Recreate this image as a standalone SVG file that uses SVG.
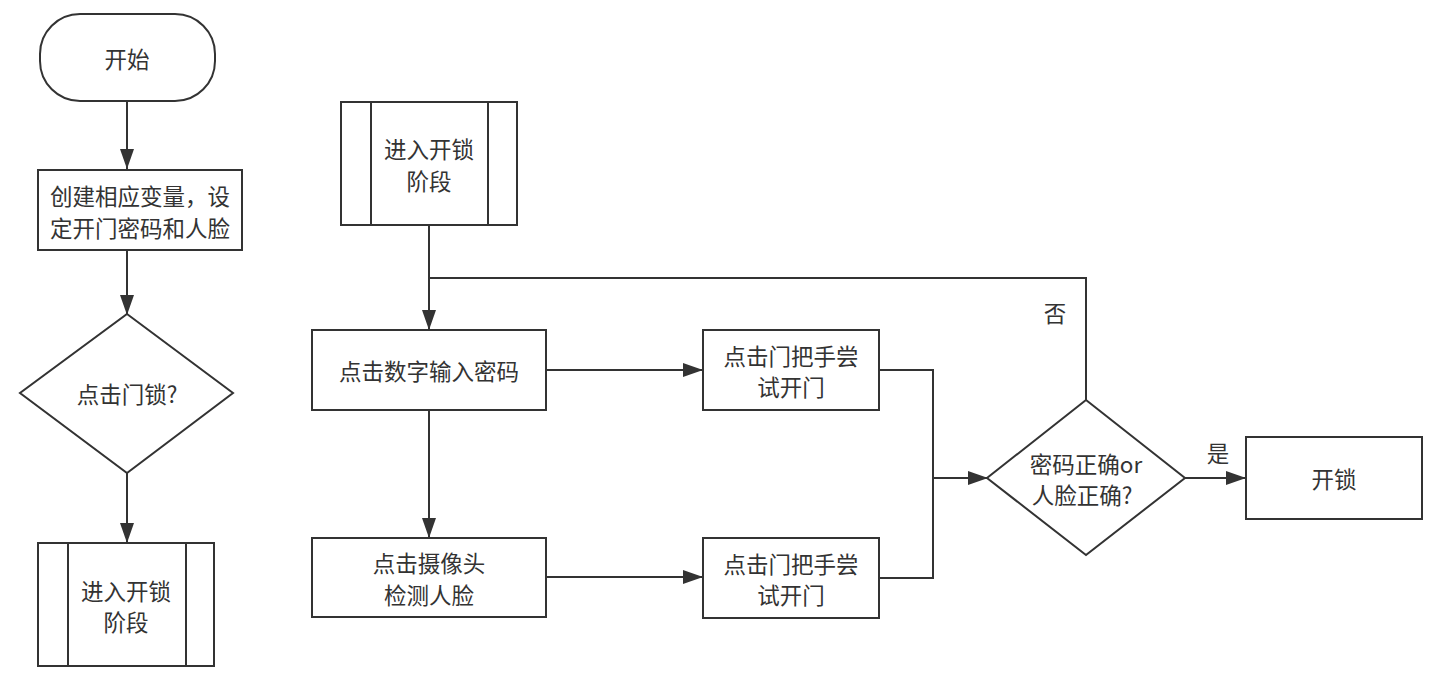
<svg xmlns="http://www.w3.org/2000/svg" width="1436" height="678" viewBox="0 0 1436 678">
<style>
.n{fill:#fff;stroke:#333;stroke-width:2}
.c{fill:none;stroke:#333;stroke-width:2}
text{font-family:"Noto Sans CJK SC","Microsoft YaHei",sans-serif;font-size:22.5px;fill:#333;text-anchor:middle;dominant-baseline:central}
</style>
<defs>
<marker id="a" viewBox="0 0 20 14" refX="20" refY="7" markerWidth="20" markerHeight="14" markerUnits="userSpaceOnUse" orient="auto">
<path d="M0,0L20,7L0,14Z" fill="#333"/>
</marker>
</defs>
<rect width="1436" height="678" fill="#fff"/>
<g id="connectors">
<path class="c" d="M127,101V169" marker-end="url(#a)"/>
<path class="c" d="M127,250V315" marker-end="url(#a)"/>
<path class="c" d="M127,473V543" marker-end="url(#a)"/>
<path class="c" d="M429,225V330" marker-end="url(#a)"/>
<path class="c" d="M429,410V538" marker-end="url(#a)"/>
<path class="c" d="M546,370H703" marker-end="url(#a)"/>
<path class="c" d="M546,577H703" marker-end="url(#a)"/>
<path class="c" d="M879,370H933V578H879"/>
<path class="c" d="M933,478H988" marker-end="url(#a)"/>
<path class="c" d="M1086,400V278H429"/>
<path class="c" d="M1185,478H1246" marker-end="url(#a)"/>
<text x="1055" y="312">否</text>
<text x="1218" y="452">是</text>
</g>
<g id="start">
<rect class="n" x="40" y="14" width="175" height="87" rx="40"/>
<text x="127" y="58">开始</text>
</g>
<g id="init">
<rect class="n" x="38" y="170" width="204" height="80"/>
<text x="140" y="195">创建相应变量，设</text>
<text x="140" y="227">定开门密码和人脸</text>
</g>
<g id="click-lock">
<path class="n" d="M127,314L233,393L127,473L20,393Z"/>
<text x="127" y="393">点击门锁?</text>
</g>
<g id="enter-left">
<rect class="n" x="38" y="543" width="176" height="123"/>
<path class="c" d="M68,543V666M186,543V666"/>
<text x="126" y="590">进入开锁</text>
<text x="126" y="621">阶段</text>
</g>
<g id="enter-mid">
<rect class="n" x="341" y="102" width="176" height="123"/>
<path class="c" d="M371,102V225M488,102V225"/>
<text x="429" y="148">进入开锁</text>
<text x="429" y="180">阶段</text>
</g>
<g id="password">
<rect class="n" x="312" y="330" width="234" height="80"/>
<text x="429" y="370">点击数字输入密码</text>
</g>
<g id="camera">
<rect class="n" x="312" y="538" width="234" height="79"/>
<text x="429" y="562">点击摄像头</text>
<text x="429" y="594">检测人脸</text>
</g>
<g id="handle-top">
<rect class="n" x="703" y="330" width="176" height="80"/>
<text x="791" y="355">点击门把手尝</text>
<text x="791" y="386">试开门</text>
</g>
<g id="handle-bottom">
<rect class="n" x="703" y="538" width="176" height="80"/>
<text x="791" y="563">点击门把手尝</text>
<text x="791" y="594">试开门</text>
</g>
<g id="check">
<path class="n" d="M1086,400L1185,478L1086,555L987,478Z"/>
<text x="1086" y="463">密码正确or</text>
<text x="1082" y="494">人脸正确?</text>
</g>
<g id="unlock">
<rect class="n" x="1246" y="437" width="176" height="82"/>
<text x="1334" y="478">开锁</text>
</g>
</svg>
